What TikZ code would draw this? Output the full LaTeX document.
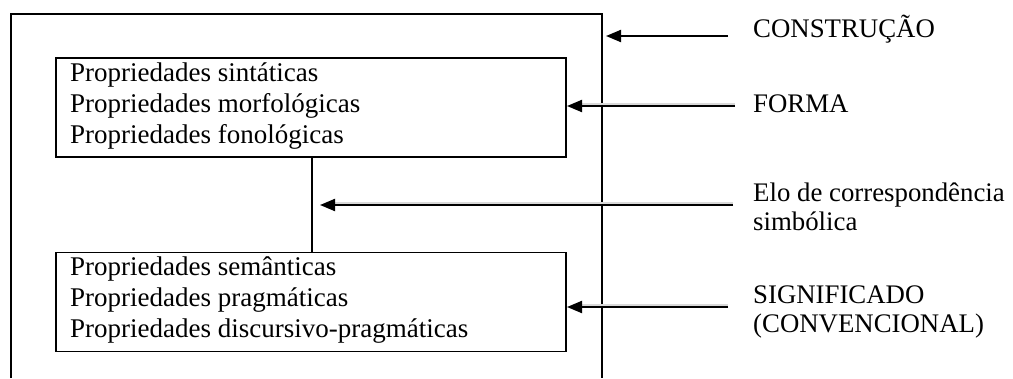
\documentclass[tikz,border=0pt]{standalone}
\usepackage{fontspec}
\setmainfont{Liberation Serif}
\usetikzlibrary{arrows.meta}
\begin{document}
\begin{tikzpicture}[x=1pt,y=-1pt,
  frame/.style={line width=2pt},
  propbox/.style={draw,line width=1.6pt,minimum width=510pt,minimum height=99pt,anchor=north west,inner sep=0pt},
  proptxt/.style={font=\fontsize{27}{31}\selectfont,align=left,anchor=base west,inner sep=0pt},
  lbl/.style={font=\fontsize{26.8}{29}\selectfont,align=left,anchor=base west,inner sep=0pt},
  arr/.style={line width=2pt,-{Triangle[length=15pt,width=12pt]}},
  shadow/.style={line width=2.5pt,gray!30}
]
\useasboundingbox (0,0) rectangle (1013,378);
% outer frame (open at the bottom)
\draw[frame] (11,378) -- (11,14) -- (602,14) -- (602,378);
% inner boxes
\node[propbox] (forma) at (55,57) {};
\node[propbox] (signif) at (55,251.5) {};
\node[proptxt] (formatxt) at (70,143) {Propriedades sint\'aticas\\Propriedades morfol\'ogicas\\Propriedades fonol\'ogicas};
\node[proptxt] (signiftxt) at (70,337) {Propriedades sem\^anticas\\Propriedades pragm\'aticas\\Propriedades discursivo-pragm\'aticas};
% symbolic correspondence link
\draw[line width=2pt] (forma.south -| 311.5,0) coordinate (la) -- (signif.north -| 311.5,0) coordinate (lb);
% labels
\node[lbl] (lconstr) at (753,37) {CONSTRU\c{C}\~AO};
\node[lbl] (lforma) at (753,112) {FORMA};
\node[lbl] (lelo) at (753,230) {Elo de correspond\^encia\\simb\'olica};
\node[lbl] (lsig) at (753,332) {SIGNIFICADO\\(CONVENCIONAL)};
% arrow anchor points
\coordinate (s1) at (728,36);
\coordinate (t1) at (606,36);
\coordinate (s2) at (735,106);
\coordinate (t2) at (567,106);
\coordinate (s3) at (733,205);
\coordinate (t3) at (320,205);
\coordinate (s4) at (728,307);
\coordinate (t4) at (567,307);
% shadows
\draw[shadow] ([yshift=2pt,xshift=12pt]t2) -- ([yshift=2pt]s2);
\draw[shadow] ([yshift=2pt,xshift=12pt]t3) -- ([yshift=2pt]s3);
\draw[shadow] ([yshift=2pt,xshift=12pt]t4) -- ([yshift=2pt]s4);
% arrows
\draw[arr] (s1) -- (t1);
\draw[arr] (s2) -- (t2);
\draw[arr] (s3) -- (t3);
\draw[arr] (s4) -- (t4);
\end{tikzpicture}
\end{document}
